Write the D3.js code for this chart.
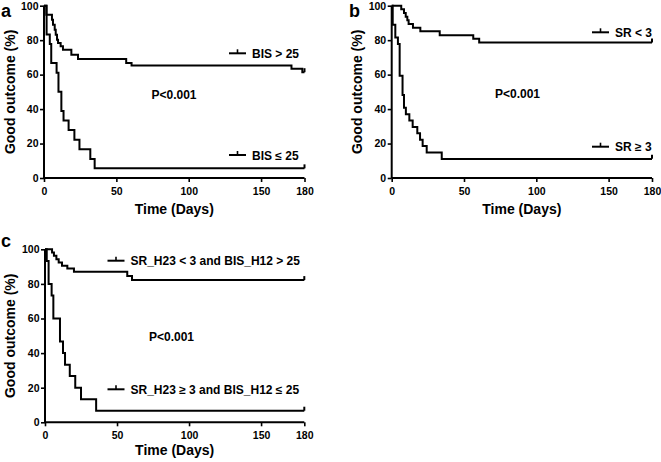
<!DOCTYPE html>
<html>
<head>
<meta charset="utf-8">
<script src="https://cdn.jsdelivr.net/npm/d3@7/dist/d3.min.js"></script>
<style>
  html, body { margin: 0; padding: 0; background: #fff; }
  svg { display: block; }
  text { font-family: "Liberation Sans", Arial, Helvetica, sans-serif; font-weight: bold; fill: #000; }
</style>
</head>
<body>
<svg id="chart" width="661" height="462"></svg>
<script>
// ---- data ----
const xTicks = [0, 50, 100, 150, 180];
const yTicks = [0, 20, 40, 60, 80, 100];
const panelLabels = ["a", "b", "c"];
const pText = "P<0.001";
const xTitle = "Time (Days)";
const yTitle = "Good outcome (%)";

const aNames = ["BIS > 25", "BIS \u2264 25"];
const aHighTimes = [1.6, 5.5, 6.2, 7.4, 8.1, 9.0, 9.7, 11.5, 13.1, 18.9, 23.5, 56.8, 60.5, 171, 178.5];
const aHighSurv  = [94.8, 91.9, 89.0, 86.0, 83.1, 80.2, 78.3, 76.4, 74.4, 71.5, 69.0, 66.7, 65.3, 63.4, 61.4];
const aLowTimes  = [1.8, 4.0, 5.0, 8.7, 10.0, 12.0, 13.5, 17.0, 21.0, 24.5, 32.0, 35.0];
const aLowSurv   = [83.3, 77.8, 66.7, 61.1, 50.0, 38.9, 33.3, 27.8, 22.2, 16.7, 11.1, 5.6];

const bNames = ["SR < 3", "SR \u2265 3"];
const bHighTimes = [6.6, 8.5, 9.7, 10.8, 11.7, 14.7, 19.8, 33.2, 56.4, 60.5];
const bHighSurv  = [97.9, 95.7, 93.6, 91.5, 89.4, 87.2, 85.1, 82.9, 80.8, 78.7];
const bLowTimes  = [0.7, 2.5, 4.3, 5.5, 7.5, 8.5, 9.8, 12.2, 14.5, 17.7, 19.6, 21.4, 24.2, 34.6];
const bLowSurv   = [88.9, 81.5, 77.8, 59.3, 48.1, 40.7, 37.0, 33.3, 29.6, 25.9, 22.2, 18.5, 14.8, 11.1];

const cNames = ["SR_H23 < 3 and BIS_H12 > 25", "SR_H23 \u2265 3 and BIS_H12 \u2264 25"];
const cHighTimes = [4.9, 6.2, 7.9, 9.5, 11.8, 15.5, 20.1, 57.1, 60.4];
const cHighSurv  = [98.1, 96.2, 94.3, 92.4, 90.5, 88.9, 87.0, 84.6, 82.2];
const cLowTimes  = [1.2, 2.5, 4.6, 5.8, 10.4, 12.5, 13.9, 17.2, 21.0, 25.0, 35.5];
const cLowSurv   = [93.3, 80.0, 73.3, 60.0, 46.7, 40.0, 33.3, 26.7, 20.0, 13.3, 6.7];

// ---- layout ----
const panels = [
  { label: panelLabels[0], lx: 1, ly: 17, x0: 44, x1: 304.5, yTop: 5.7, yBot: 178, ytx: 15, xtOff: 36,
    p: [151.5, 99], names: aNames,
    series: [[aHighTimes, aHighSurv], [aLowTimes, aLowSurv]],
    leg: [[229, 53.3], [229, 155]] },
  { label: panelLabels[1], lx: 349, ly: 17, x0: 391.7, x1: 652, yTop: 5.7, yBot: 178, ytx: 362, xtOff: 36,
    p: [495, 97.5], names: bNames,
    series: [[bHighTimes, bHighSurv], [bLowTimes, bLowSurv]],
    leg: [[592, 32.3], [592, 146.7]] },
  { label: panelLabels[2], lx: 1, ly: 247, x0: 45, x1: 304.3, yTop: 249.3, yBot: 422.3, ytx: 15, xtOff: 33,
    p: [149, 341], names: cNames,
    series: [[cHighTimes, cHighSurv], [cLowTimes, cLowSurv]],
    leg: [[107.5, 260.7], [107.5, 389.3]] }
];

const svg = d3.select("#chart");

panels.forEach(P => {
  const x = d3.scaleLinear().domain([0, 180]).range([P.x0, P.x1]);
  const y = d3.scaleLinear().domain([0, 100]).range([P.yBot, P.yTop]);
  const g = svg.append("g");

  // x axis
  const xa = g.append("g").attr("transform", `translate(0,${P.yBot})`)
    .call(d3.axisBottom(x).tickValues(xTicks).tickSize(4).tickPadding(5.5).tickFormat(d3.format("d")));
  // y axis
  const ya = g.append("g").attr("transform", `translate(${P.x0},0)`)
    .call(d3.axisLeft(y).tickValues(yTicks).tickSize(4).tickPadding(1.5).tickFormat(d3.format("d")));
  [xa, ya].forEach(a => {
    a.select(".domain").attr("stroke", "#000").attr("stroke-width", 2);
    a.selectAll(".tick line").attr("stroke", "#000").attr("stroke-width", 1.6);
    a.selectAll(".tick text").attr("font-size", 10.5).attr("font-weight", "bold")
      .attr("font-family", "'Liberation Sans', Arial, sans-serif").attr("fill", "#000");
  });
  xa.select(".domain").attr("d", `M${P.x0},0H${P.x1}`);
  ya.select(".domain").attr("d", `M0,${P.yBot}V${P.yTop}`);

  // axis titles
  g.append("text").attr("x", (P.x0 + P.x1) / 2).attr("y", P.yBot + P.xtOff)
    .attr("text-anchor", "middle").attr("font-size", 14).text(xTitle);
  g.append("text")
    .attr("transform", `translate(${P.ytx},${(P.yTop + P.yBot) / 2}) rotate(-90)`)
    .attr("text-anchor", "middle").attr("font-size", 14).text(yTitle);

  // panel label
  g.append("text").attr("x", P.lx).attr("y", P.ly).attr("font-size", 18).text(P.label);

  // survival curves
  const line = d3.line().x(d => x(d[0])).y(d => y(d[1])).curve(d3.curveStepAfter);
  P.series.forEach(([times, surv]) => {
    const pts = [[0, 100]].concat(times.map((t, i) => [t, surv[i]]));
    pts.push([180, surv[surv.length - 1]]);
    g.append("path").attr("d", line(pts)).attr("fill", "none")
      .attr("stroke", "#000").attr("stroke-width", 2).attr("stroke-linejoin", "miter");
    const last = surv[surv.length - 1];
    g.append("line").attr("x1", x(180)).attr("x2", x(180))
      .attr("y1", y(last)).attr("y2", y(last) - 4)
      .attr("stroke", "#000").attr("stroke-width", 2);
  });

  // legends
  P.leg.forEach(([lx, ly], i) => {
    g.append("line").attr("x1", lx).attr("x2", lx + 17).attr("y1", ly).attr("y2", ly)
      .attr("stroke", "#000").attr("stroke-width", 2);
    g.append("line").attr("x1", lx + 8.5).attr("x2", lx + 8.5).attr("y1", ly).attr("y2", ly - 4)
      .attr("stroke", "#000").attr("stroke-width", 1.6);
    g.append("text").attr("x", lx + 23).attr("y", ly + 4.5).attr("font-size", 12).text(P.names[i]);
  });

  // p value
  g.append("text").attr("x", P.p[0]).attr("y", P.p[1]).attr("font-size", 12).text(pText);
});
</script>
</body>
</html>
